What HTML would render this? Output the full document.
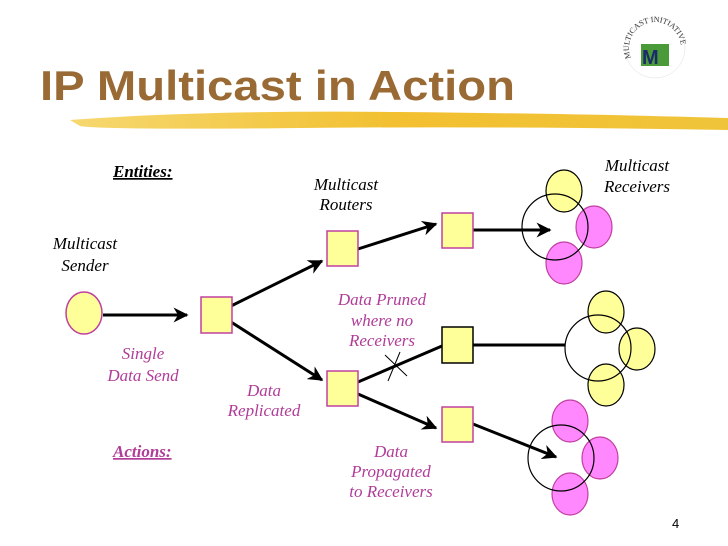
<!DOCTYPE html>
<html><head><meta charset="utf-8"><style>
body{margin:0;background:#fff;width:728px;height:546px;overflow:hidden}
svg{display:block}
.t{font-family:"Liberation Serif",serif;font-style:italic;font-size:17px}
.p{fill:#b03c98}
</style></head><body>
<svg width="728" height="546" viewBox="0 0 728 546">
<defs>
<marker id="a" viewBox="0 0 10 10" refX="9" refY="5" markerWidth="5" markerHeight="5" orient="auto"><path d="M0,0 L10,5 L0,10 L3,5 z" fill="#000"/></marker>
<linearGradient id="g" x1="0" x2="1"><stop offset="0" stop-color="#f6d870"/><stop offset="0.5" stop-color="#f2c030"/><stop offset="1" stop-color="#f0c43a"/></linearGradient>
</defs>
<text x="40" y="100" font-family="Liberation Sans,sans-serif" font-weight="bold" font-size="42" fill="#9a6a34" textLength="475" lengthAdjust="spacingAndGlyphs">IP Multicast in Action</text>
<path d="M70,120 Q200,110 400,112 T728,118 L728,130 Q500,126 300,128 T80,126 Z" fill="url(#g)"/>
<g transform="translate(655,48)">
<circle r="30" fill="#fff" stroke="#ddd" stroke-width="0.5"/>
<path id="arc" d="M-24,10 A26,26 0 1 1 24,10" fill="none"/>
<text font-family="Liberation Serif,serif" font-size="8" fill="#333"><textPath href="#arc">MULTICAST INITIATIVE</textPath></text>
<rect x="-14" y="-4" width="28" height="22" fill="#4a9a3a"/>
<text x="-13" y="16" font-family="Liberation Sans,sans-serif" font-weight="bold" font-size="20" fill="#1a2a6a">M</text>
</g>
<text x="113" y="177" class="t" font-weight="bold" text-decoration="underline" fill="#000">Entities:</text>
<text x="113" y="457" class="t p" font-weight="bold" text-decoration="underline">Actions:</text>
<text class="t" x="85" y="249" text-anchor="middle">Multicast</text>
<text class="t" x="85" y="271" text-anchor="middle">Sender</text>
<text class="t" x="346" y="190" text-anchor="middle">Multicast</text>
<text class="t" x="346" y="210" text-anchor="middle">Routers</text>
<text class="t" x="637" y="171" text-anchor="middle">Multicast</text>
<text class="t" x="637" y="192" text-anchor="middle">Receivers</text>
<g class="t p" text-anchor="middle">
<text x="143" y="359">Single</text><text x="143" y="381">Data Send</text>
<text x="264" y="396">Data</text><text x="264" y="416">Replicated</text>
<text x="382" y="305">Data Pruned</text><text x="382" y="326">where no</text><text x="382" y="346">Receivers</text>
<text x="391" y="457">Data</text><text x="391" y="477">Propagated</text><text x="391" y="497">to Receivers</text>
</g>
<g stroke="#000" stroke-width="3" fill="none">
<line x1="103" y1="315" x2="187" y2="315" marker-end="url(#a)"/>
<line x1="231" y1="306" x2="322" y2="261" marker-end="url(#a)"/>
<line x1="231" y1="322" x2="322" y2="380" marker-end="url(#a)"/>
<line x1="358" y1="249" x2="436" y2="224" marker-end="url(#a)"/>
<line x1="473" y1="230" x2="550" y2="230" marker-end="url(#a)"/>
<line x1="358" y1="382" x2="442" y2="346"/>
<line x1="473" y1="345" x2="565" y2="345"/>
<line x1="358" y1="394" x2="436" y2="428" marker-end="url(#a)"/>
<line x1="473" y1="424" x2="556" y2="457" marker-end="url(#a)"/>
</g>
<g stroke="#000" stroke-width="1">
<line x1="385" y1="355" x2="407" y2="376"/><line x1="400" y1="352" x2="388" y2="381"/>
</g>
<ellipse cx="84" cy="313" rx="18" ry="21" fill="#ffff99" stroke="#c040a0" stroke-width="1.5"/>
<g fill="#ffff99" stroke="#c040a0" stroke-width="1.5">
<rect x="201" y="297" width="31" height="36"/>
<rect x="327" y="231" width="31" height="35"/>
<rect x="327" y="371" width="31" height="35"/>
<rect x="442" y="213" width="31" height="35"/>
<rect x="442" y="407" width="31" height="35"/>
</g>
<rect x="442" y="327" width="31" height="36" fill="#ffff99" stroke="#000" stroke-width="1.5"/>
<g stroke-width="1.2">
<ellipse cx="564" cy="191" rx="18" ry="21" fill="#ffff99" stroke="#000"/>
<ellipse cx="594" cy="227" rx="18" ry="21" fill="#ff88ff" stroke="#c040a0"/>
<ellipse cx="564" cy="263" rx="18" ry="21" fill="#ff88ff" stroke="#c040a0"/>
<circle cx="555" cy="227" r="33" fill="none" stroke="#000"/>
<ellipse cx="606" cy="312" rx="18" ry="21" fill="#ffff99" stroke="#000"/>
<ellipse cx="637" cy="349" rx="18" ry="21" fill="#ffff99" stroke="#000"/>
<ellipse cx="606" cy="385" rx="18" ry="21" fill="#ffff99" stroke="#000"/>
<circle cx="598" cy="348" r="33" fill="none" stroke="#000"/>
<ellipse cx="570" cy="421" rx="18" ry="21" fill="#ff88ff" stroke="#c040a0"/>
<ellipse cx="600" cy="458" rx="18" ry="21" fill="#ff88ff" stroke="#c040a0"/>
<ellipse cx="570" cy="494" rx="18" ry="21" fill="#ff88ff" stroke="#c040a0"/>
<circle cx="561" cy="458" r="33" fill="none" stroke="#000"/>
</g>
<text x="672" y="528" font-family="Liberation Sans,sans-serif" font-size="13">4</text>
</svg>
</body></html>
